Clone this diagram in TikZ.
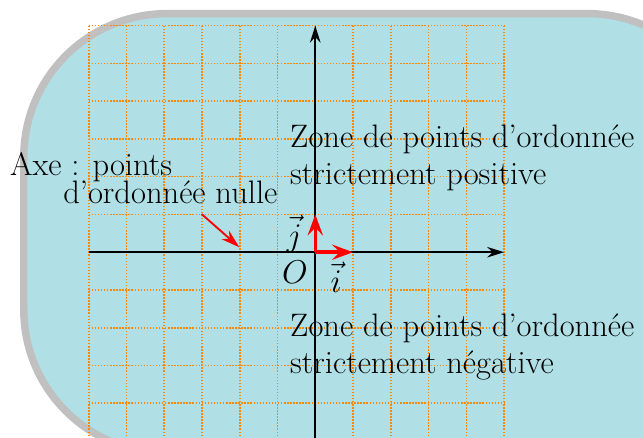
\documentclass[tikz,border=0pt]{standalone}
\usetikzlibrary{arrows.meta}
\definecolor{fondbleu}{RGB}{176,224,230}
\definecolor{bordgris}{RGB}{192,192,192}
\definecolor{grilleor}{RGB}{252,136,10}
\tikzset{
  cadre/.style={draw=bordgris, fill=fondbleu, line width=5.6pt, rounded corners=3.8cm},
  grille/.style={grilleor, dash pattern=on 1.1pt off 1.2pt, line width=1.2pt},
  axe/.style={-{Stealth[length=4.5mm, width=2.8mm, inset=1.5mm]}, black, line width=1.5pt},
  vecb/.style={-{Stealth[length=5.5mm, width=4mm, inset=2mm]}, red, line width=2.6pt},
  fl/.style={-{Stealth[length=5mm, width=3mm, inset=1.6mm]}, red, line width=1.4pt},
  txt/.style={inner sep=0pt, font=\fontsize{24.5}{27.8}\selectfont},
  zone/.style={txt, align=left, anchor=west},
}

\begin{document}
\begin{tikzpicture}
  \useasboundingbox (-8.35,-4.92) rectangle (8.68,6.68);
  \clip (-8.35,-4.92) rectangle (8.68,6.68);
  \draw[cadre] (-7.72,-5.32) rectangle (11,6.32);
  \draw[grille] (-6,-6) grid (5,6);
  % repere
  \coordinate (O) at (0,0);
  \coordinate (xmin) at (-6,0);
  \coordinate (xmax) at (5,0);
  \coordinate (ymin) at (0,-6);
  \coordinate (ymax) at (0,6);
  \coordinate (I) at (1,0);
  \coordinate (J) at (0,1);
  \draw[axe] (xmin) -- (xmax);
  \draw[axe] (ymin) -- (ymax);
  \draw[vecb] (O) -- (I);
  \draw[vecb] (O) -- (J);
  \node[txt] (lO) at (-0.54,-0.54) {$O$};
  \node[txt] (lj) at (-0.56,0.48) {$\vec{j}$};
  \node[txt] (li) at (0.55,-0.66) {$\vec{i}$};
  % textes
  \node[txt, anchor=base west] (axe1) at (-8.09,2.02) {Axe : points};
  \node[txt, anchor=base west] (axe2) at (-6.68,1.28) {d’ordonnée nulle};
  \node[zone] (zpos) at (-0.67,2.50) {Zone de points d’ordonnée\\strictement positive};
  \node[zone] (zneg) at (-0.67,-2.51) {Zone de points d’ordonnée\\strictement négative};
  \coordinate (fdep) at (-3.01,1.01);
  \coordinate (farr) at (-2.01,0.13);
  \draw[fl] (fdep) -- (farr);
\end{tikzpicture}
\end{document}
